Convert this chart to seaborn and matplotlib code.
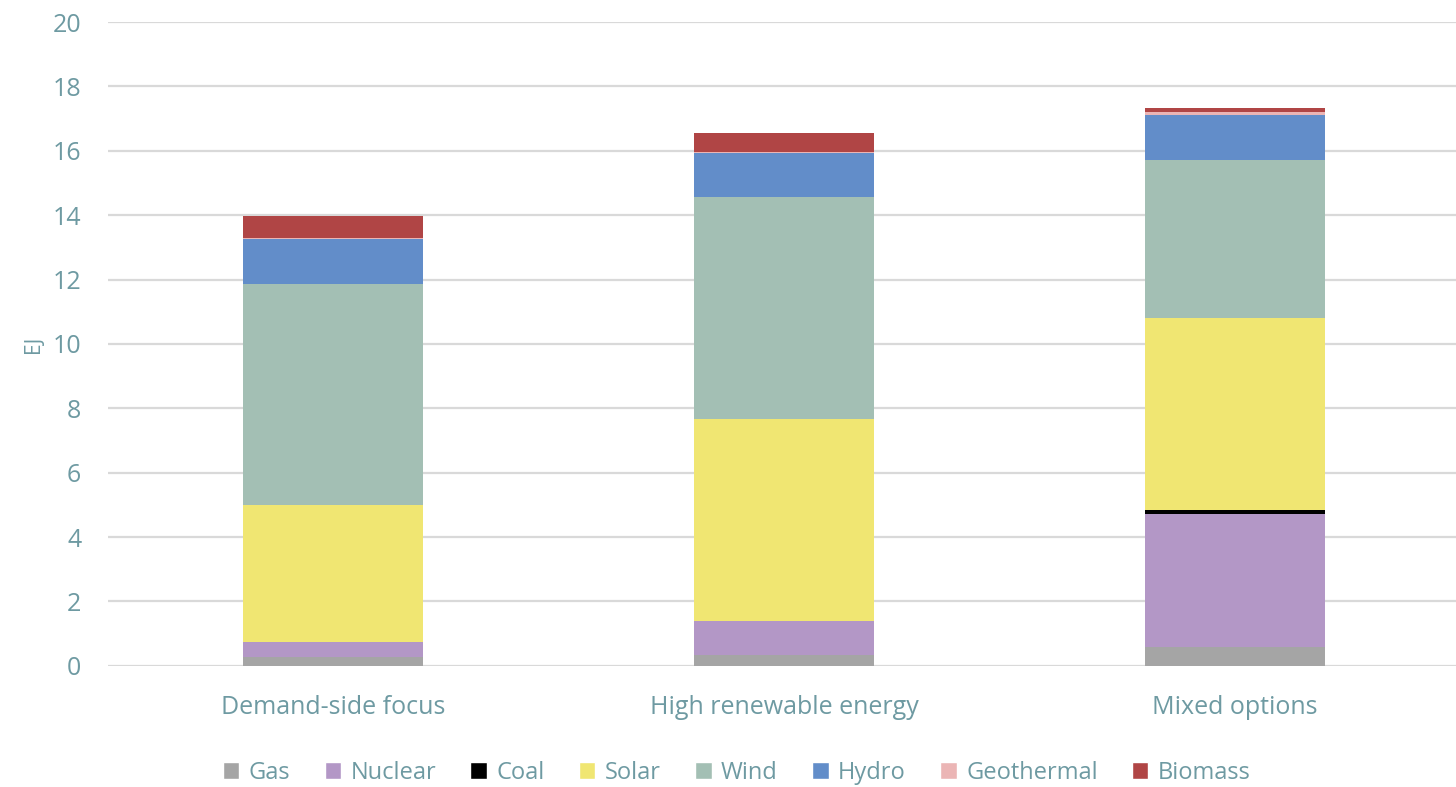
import seaborn as sns
import pandas as pd
import numpy as np
import matplotlib.pyplot as plt
from matplotlib.patches import Patch

# Mezcla de generacion electrica por escenario (EJ)
scenarios = ["Demand-side focus", "High renewable energy", "Mixed options"]
sources = ["Gas", "Nuclear", "Coal", "Solar", "Wind", "Hydro", "Geothermal", "Biomass"]

gas = [0.28, 0.34, 0.59]
nuclear = [0.47, 1.06, 4.13]
coal = [0.0, 0.0, 0.12]
solar = [4.25, 6.27, 5.96]
wind = [6.86, 6.90, 4.91]
hydro = [1.40, 1.36, 1.40]
geothermal = [0.02, 0.02, 0.09]
biomass = [0.70, 0.60, 0.13]

colors = ["#A5A5A5", "#B397C6", "#000000", "#F0E672",
          "#A3BFB4", "#628DC9", "#EBB5B5", "#B04545"]
text_color = "#6E9AA2"

sns.set_style("white")
plt.rcParams["font.family"] = ["Open Sans", "DejaVu Sans"]

fig = plt.figure(figsize=(14.56, 7.87), dpi=100)
ax = fig.add_axes([0.074, 0.154, 0.926, 0.818])

series = [gas, nuclear, coal, solar, wind, hydro, geothermal, biomass]
bottom = np.zeros(len(scenarios))
for name, vals, col in zip(sources, series, colors):
    df = pd.DataFrame({"scenario": scenarios, "value": vals})
    sns.barplot(data=df, x="scenario", y="value", color=col, width=0.4,
                bottom=bottom, ax=ax, saturation=1, linewidth=0, zorder=3)
    bottom = bottom + np.array(vals)

ax.set_ylim(0, 20)
ax.set_xlim(-0.5, 2.49)
ax.set_yticks(range(0, 21, 2))
ax.yaxis.grid(True, color="#D9D9D9", linewidth=1.6, zorder=0)
ax.set_axisbelow(True)
for s in ax.spines.values():
    s.set_visible(False)
ax.tick_params(axis="both", length=0, colors=text_color, labelsize=18)
ax.tick_params(axis="x", pad=21)
ax.tick_params(axis="y", pad=19)
ax.set_xlabel("")
ax.set_ylabel("EJ", color=text_color, fontsize=15, labelpad=6)

handles = [Patch(facecolor=c, label=n) for n, c in zip(sources, colors)]
fig.legend(handles=handles, loc="center", bbox_to_anchor=(0.506, 0.018),
           ncol=8, frameon=False, fontsize=17, handlelength=0.7, handleheight=0.7,
           handletextpad=0.4, columnspacing=1.45, labelcolor=text_color)

plt.savefig("out.png", dpi=100)
